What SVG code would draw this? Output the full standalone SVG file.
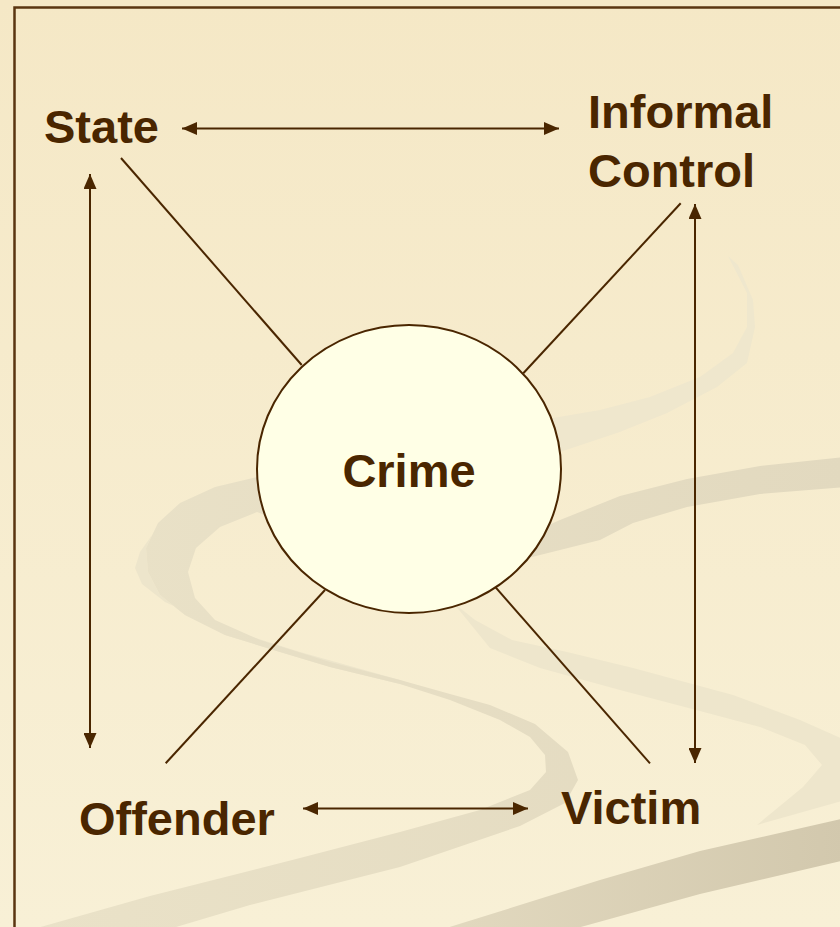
<svg xmlns="http://www.w3.org/2000/svg" width="840" height="927" viewBox="0 0 840 927">
<defs>
<linearGradient id="bg" x1="0" y1="0" x2="0" y2="1">
<stop offset="0" stop-color="#F5E8C6"/>
<stop offset="1" stop-color="#F8F0D6"/>
</linearGradient>
<linearGradient id="sw1" x1="0" y1="0" x2="1" y2="0">
<stop offset="0" stop-color="#EAE2C8"/>
<stop offset="1" stop-color="#E2D9BF"/>
</linearGradient>
<linearGradient id="sw4" x1="0" y1="0" x2="1" y2="0">
<stop offset="0" stop-color="#E2D9BF"/>
<stop offset="1" stop-color="#D2C8AD"/>
</linearGradient>
<marker id="ah" markerUnits="userSpaceOnUse" markerWidth="15" markerHeight="13" refX="15" refY="6.5" orient="auto-start-reverse" viewBox="0 0 15 13">
<path d="M0,0 L15,6.5 L0,13 Z" fill="#4A2600"/>
</marker>
<style>
.lbl{font-family:"Liberation Sans",Arial,sans-serif;font-weight:bold;font-size:47px;fill:#4A2600}
.ln{stroke:#4A2600;stroke-width:2;fill:none}
.arr{stroke:#4A2600;stroke-width:2;fill:none;marker-start:url(#ah);marker-end:url(#ah)}
</style>
</defs>
<g id="background">
<rect x="0" y="0" width="840" height="927" fill="url(#bg)"/>
<path fill="#EFE7CD" d="M728,256 L747,293 L747,327 L733,353 L700,377 L650,397 L600,410 L553,418 L500,430 L500,460 L560,452 L617,433 L667,413 L717,387 L747,363 L755,327 L753,300 L738,265 Z"/>
<path fill="#EEE6CC" d="M450,600 L475,620 L512,640 L567,652 L633,668 L733,695 L800,720 L845,740 L845,800 L757,825 L803,787 L822,765 L805,745 L760,727 L700,711 L620,690 L540,668 L490,648 L455,605 Z"/>
<path fill="#EDE5CB" d="M152,535 L140,552 L135,568 L142,584 L165,602 L215,625 L300,652 L400,680 L450,697 L400,684 L330,667 L280,652 L225,635 L185,615 L160,595 L148,572 L146,548 Z"/>
<path fill="url(#sw1)" d="M845,457 L760,466 L687,479 L620,496 L560,520 L470,560 L400,540 L320,500 L257,477 L215,487 L180,503 L158,523 L146,548 L148,572 L160,595 L185,615 L225,635 L280,652 L330,667 L400,684 L450,700 L500,720 L530,737 L545,755 L546,772 L530,790 L480,810 L400,832 L300,858 L150,896 L30,930 L166,930 L250,905 L400,867 L520,826 L565,803 L578,780 L568,752 L535,724 L490,705 L450,694 L400,680 L330,662 L260,640 L215,620 L195,598 L188,572 L196,548 L220,527 L257,512 L330,540 L420,590 L520,560 L600,540 L633,523 L687,507 L760,494 L845,487 Z"/>
<path fill="url(#sw4)" d="M440,930 L600,880 L700,851 L845,818 L845,860 L700,894 L570,930 Z"/>
<path d="M14.5,940 L14.5,7.5 L850,7.5" fill="none" stroke="#5A3510" stroke-width="2.5"/>
</g>
<g id="connectors">
<line class="arr" x1="182" y1="128.5" x2="559" y2="128.5"/>
<line class="arr" x1="90" y1="174" x2="90" y2="748"/>
<line class="arr" x1="695" y1="204" x2="695" y2="763"/>
<line class="arr" x1="303" y1="808.5" x2="528" y2="808.5"/>
<line class="ln" x1="121" y1="158" x2="301.7" y2="365"/>
<line class="ln" x1="680.7" y1="203.3" x2="523.3" y2="373.3"/>
<line class="ln" x1="165.7" y1="763.3" x2="325" y2="590"/>
<line class="ln" x1="650" y1="763.3" x2="495" y2="586.7"/>
</g>
<g id="crime">
<ellipse cx="409" cy="469" rx="152" ry="144" fill="#FFFFE6" stroke="#4A2600" stroke-width="2"/>
<text class="lbl" x="409" y="487" text-anchor="middle">Crime</text>
</g>
<g id="state"><text class="lbl" x="44" y="143">State</text></g>
<g id="informal-control"><text class="lbl" x="588" y="128">Informal</text><text class="lbl" x="588" y="186.5">Control</text></g>
<g id="offender"><text class="lbl" x="79" y="835">Offender</text></g>
<g id="victim"><text class="lbl" x="561" y="824">Victim</text></g>
</svg>
